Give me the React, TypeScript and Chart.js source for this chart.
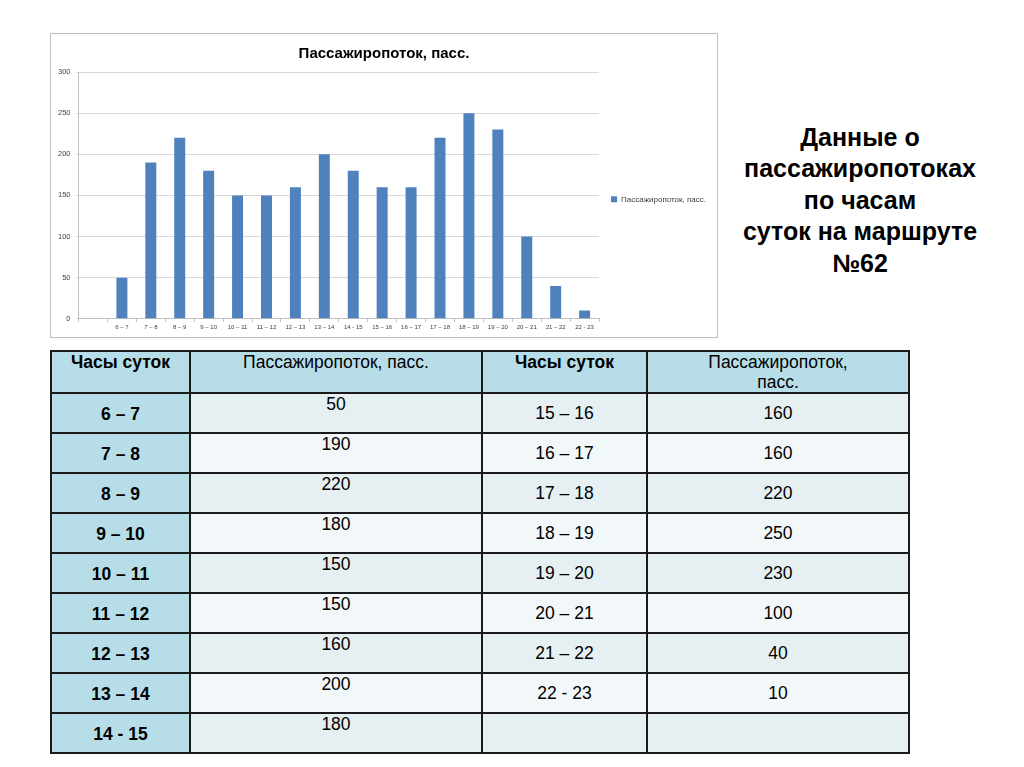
import React, { useEffect, useRef } from "react";
import { Chart, registerables } from "chart.js";

Chart.register(...registerables);

const chartTitle = "Пассажиропоток, пасс.";
const seriesName = "Пассажиропоток, пасс.";
const categories = ["", "6 – 7", "7 – 8", "8 – 9", "9 – 10", "10 – 11", "11 – 12", "12 – 13", "13 – 14", "14 - 15", "15 – 16", "16 – 17", "17 – 18", "18 – 19", "19 – 20", "20 – 21", "21 – 22", "22 - 23"];
const values: (number | null)[] = [null, 50, 190, 220, 180, 150, 150, 160, 200, 180, 160, 160, 220, 250, 230, 100, 40, 10];
const yTicks = [0, 50, 100, 150, 200, 250, 300];

const headerCols = ["Часы суток", "Пассажиропоток, пасс.", "Часы суток", "Пассажиропоток,\nпасс."];
const leftHours = ["6 – 7", "7 – 8", "8 – 9", "9 – 10", "10 – 11", "11 – 12", "12 – 13", "13 – 14", "14 - 15"];
const leftValues = ["50", "190", "220", "180", "150", "150", "160", "200", "180"];
const rightHours = ["15 – 16", "16 – 17", "17 – 18", "18 – 19", "19 – 20", "20 – 21", "21 – 22", "22 - 23", ""];
const rightValues = ["160", "160", "220", "250", "230", "100", "40", "10", ""];

const sideLines = ["Данные о", "пассажиропотоках", "по часам", "суток на маршруте", "№62"];

const BLUE = "#4F81BD";
const FONT = "'Liberation Sans', Arial, sans-serif";

function BarChart() {
  const ref = useRef<HTMLCanvasElement | null>(null);
  useEffect(() => {
    if (!ref.current) return;
    const chart = new Chart(ref.current, {
      type: "bar",
      data: {
        labels: categories,
        datasets: [
          {
            label: seriesName,
            data: values,
            backgroundColor: BLUE,
            borderWidth: 0,
            barPercentage: 0.38,
            categoryPercentage: 1,
          },
        ],
      },
      options: {
        responsive: false,
        animation: false,
        layout: { padding: { left: 1, right: 1, top: 0, bottom: 4 } },
        plugins: {
          title: {
            display: true,
            text: chartTitle,
            color: "#000",
            font: { family: FONT, size: 15, weight: "bold" },
            padding: { top: 11, bottom: 9 },
          },
          legend: {
            position: "right",
            title: { display: true, text: "", font: { size: 8 }, padding: { top: 22, bottom: 0 } },
            labels: {
              boxWidth: 6,
              boxHeight: 6,
              color: "#404040",
              font: { family: FONT, size: 8 },
              padding: 12,
            },
          },
          tooltip: { enabled: false },
        },
        scales: {
          x: {
            grid: { display: true, drawOnChartArea: false, drawTicks: true, tickLength: 3, color: "#bfbfbf", offset: true },
            border: { color: "#bfbfbf" },
            ticks: { color: "#404040", font: { family: FONT, size: 6 }, maxRotation: 0, autoSkip: false, padding: 2 },
          },
          y: {
            min: 0,
            max: 300,
            afterBuildTicks: (axis: any) => {
              axis.ticks = yTicks.map((v) => ({ value: v }));
            },
            grid: { color: "#d9d9d9", drawTicks: true, tickLength: 2 },
            border: { color: "#bfbfbf" },
            ticks: { color: "#404040", font: { family: FONT, size: 7.5 }, padding: 6 },
          },
        },
      },
    });
    return () => chart.destroy();
  }, []);
  return <canvas ref={ref} width={666} height={303} style={{ display: "block" }} />;
}

export default function App() {
  const cellBorder = "2px solid #1a1a1a";
  const oddBg = "#E6F0F3";
  const evenBg = "#F2F7F9";
  const blueBg = "#B7DDE8";
  const base: React.CSSProperties = {
    border: cellBorder,
    fontFamily: FONT,
    fontSize: 17.5,
    color: "#000",
    padding: 0,
    textAlign: "center",
    lineHeight: "20px",
  };
  return (
    <div style={{ position: "absolute", left: 0, top: 0, width: 1024, height: 767, background: "#fff", overflow: "hidden" }}>
      <div style={{ position: "absolute", left: 50, top: 33, width: 666, height: 303, border: "1px solid #bdbdbd" }}>
        <BarChart />
      </div>
      <div
        style={{
          position: "absolute",
          left: 720,
          top: 122,
          width: 280,
          textAlign: "center",
          fontFamily: FONT,
          fontWeight: "bold",
          fontSize: 25,
          lineHeight: "31.4px",
          color: "#000",
        }}
      >
        {sideLines.map((l, i) => (
          <div key={i}>{l}</div>
        ))}
      </div>
      <table
        style={{
          position: "absolute",
          left: 50,
          top: 350,
          width: 858,
          borderCollapse: "collapse",
          tableLayout: "fixed",
        }}
      >
        <colgroup>
          <col style={{ width: 139 }} />
          <col style={{ width: 292 }} />
          <col style={{ width: 165 }} />
          <col style={{ width: 262 }} />
        </colgroup>
        <tbody>
          <tr style={{ height: 42 }}>
            {headerCols.map((h, i) => (
              <td
                key={i}
                style={{ ...base, background: blueBg, verticalAlign: "top", paddingTop: 0, fontWeight: i === 0 || i === 2 ? "bold" : "normal", whiteSpace: "pre-line" }}
              >
                {h}
              </td>
            ))}
          </tr>
          {leftHours.map((h, r) => {
            const bg = r % 2 === 0 ? oddBg : evenBg;
            return (
              <tr key={r} style={{ height: 40 }}>
                <td style={{ ...base, background: blueBg, fontWeight: "bold", verticalAlign: "middle", paddingTop: 2 }}>{h}</td>
                <td style={{ ...base, background: bg, verticalAlign: "top", paddingTop: 0 }}>{leftValues[r]}</td>
                <td style={{ ...base, background: bg, verticalAlign: "middle" }}>{rightHours[r]}</td>
                <td style={{ ...base, background: bg, verticalAlign: "middle" }}>{rightValues[r]}</td>
              </tr>
            );
          })}
        </tbody>
      </table>
    </div>
  );
}
